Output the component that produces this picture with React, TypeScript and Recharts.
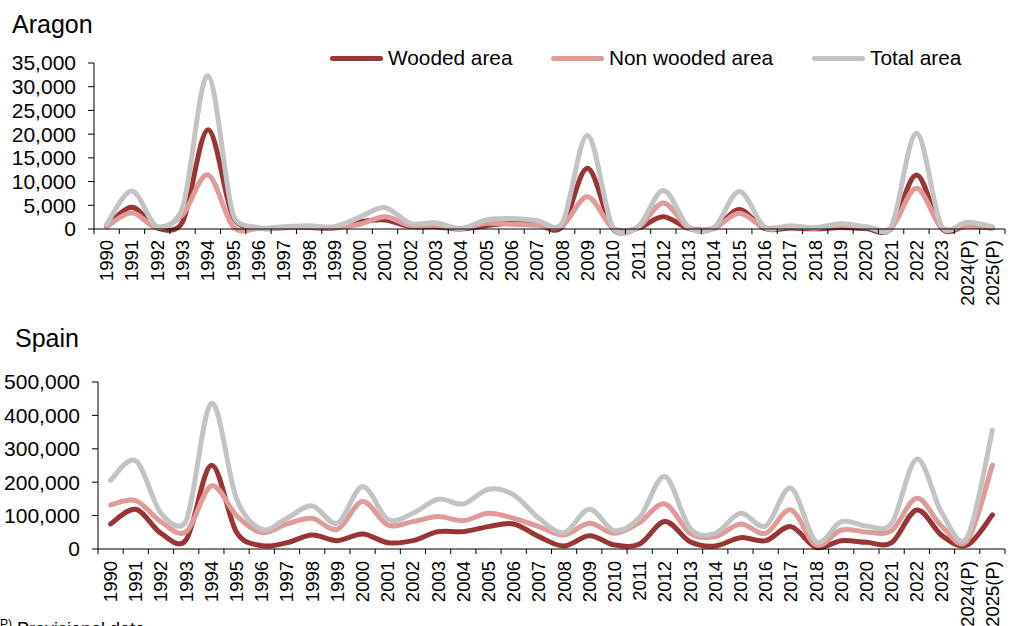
import React from 'react';
import { LineChart, Line, XAxis, YAxis } from 'recharts';

const years = [
  '1990', '1991', '1992', '1993', '1994', '1995', '1996', '1997', '1998', '1999',
  '2000', '2001', '2002', '2003', '2004', '2005', '2006', '2007', '2008', '2009',
  '2010', '2011', '2012', '2013', '2014', '2015', '2016', '2017', '2018', '2019',
  '2020', '2021', '2022', '2023', '2024(P)', '2025(P)',
];

// Aragon (ha)
const aragonWooded = [
  500, 4600, 200, 1500, 20900, 2500, 200, 300, 300, 200,
  1500, 1900, 500, 500, 0, 700, 1200, 1000, 500, 12800,
  100, 200, 2600, 100, 100, 4100, 100, 200, 50, 300,
  100, 100, 11400, 100, 700, 200,
];
const aragonNonWooded = [
  500, 3400, 300, 3000, 11400, 500, 100, 200, 400, 300,
  1000, 2600, 700, 800, 100, 1200, 1000, 800, 700, 6800,
  200, 300, 5500, 200, 200, 3300, 300, 500, 200, 800,
  400, 200, 8600, 300, 700, 300,
];
const aragonTotal = [
  1000, 8000, 500, 4500, 32300, 3000, 300, 500, 700, 500,
  2500, 4500, 1200, 1300, 100, 1900, 2200, 1800, 1200, 19700,
  400, 500, 8100, 400, 300, 7900, 400, 700, 250, 1100,
  500, 400, 20200, 500, 1400, 500,
];

// Spain (ha)
const spainWooded = [
  75000, 119000, 47000, 28000, 251000, 50000, 10000, 19000, 42000, 25000,
  45000, 19000, 25000, 52000, 52000, 67000, 75000, 37000, 9000, 40000,
  12000, 15000, 82000, 22000, 9000, 34000, 25000, 67000, 5000, 25000,
  20000, 19000, 117000, 40000, 12000, 102000,
];
const spainNonWooded = [
  132000, 145000, 82000, 52000, 189000, 100000, 49000, 75000, 92000, 59000,
  142000, 72000, 82000, 97000, 85000, 107000, 92000, 67000, 42000, 77000,
  47000, 80000, 135000, 47000, 37000, 75000, 47000, 117000, 12000, 57000,
  51000, 55000, 152000, 67000, 25000, 251000,
];
const spainTotal = [
  206000, 264000, 107000, 85000, 436000, 150000, 59000, 92000, 129000, 77000,
  187000, 89000, 107000, 149000, 135000, 179000, 162000, 92000, 49000, 119000,
  55000, 95000, 217000, 62000, 47000, 107000, 69000, 182000, 22000, 82000,
  69000, 77000, 269000, 107000, 35000, 356000,
];

const aragonTicks = [0, 5000, 10000, 15000, 20000, 25000, 30000, 35000];
const spainTicks = [0, 100000, 200000, 300000, 400000, 500000];

const COLORS = { wooded: '#993535', nonWooded: '#DF9A99', total: '#C3C3C3' };
const FONT = '"Liberation Sans", Arial, sans-serif';

// tick marks on band edges (integers), year labels on band centres (halves)
const xTicks = Array.from({ length: years.length * 2 + 1 }, (_, i) => i / 2);

const buildRows = (wooded: number[], nonWooded: number[], total: number[]) =>
  years.map((_, i) => ({ pos: i + 0.5, wooded: wooded[i], nonWooded: nonWooded[i], total: total[i] }));

// Excel-like smoothed line: Catmull-Rom handles, each capped at half of its segment
const smoothCurve = (context: any) => {
  let pts: number[][] = [];
  const handle = (dx: number, dy: number, segLen: number) => {
    const len = Math.hypot(dx, dy);
    const max = segLen / 2;
    const k = len > max && len > 0 ? max / len : 1;
    return [dx * k, dy * k];
  };
  return {
    areaStart() {},
    areaEnd() {},
    lineStart() { pts = []; },
    point(x: number, y: number) { pts.push([+x, +y]); },
    lineEnd() {
      if (!pts.length) return;
      context.moveTo(pts[0][0], pts[0][1]);
      for (let i = 0; i < pts.length - 1; i++) {
        const p0 = pts[i - 1] || pts[i];
        const p1 = pts[i];
        const p2 = pts[i + 1];
        const p3 = pts[i + 2] || p2;
        const seg = Math.hypot(p2[0] - p1[0], p2[1] - p1[1]);
        const h1 = handle((p2[0] - p0[0]) / 6, (p2[1] - p0[1]) / 6, seg);
        const h2 = handle((p3[0] - p1[0]) / 6, (p3[1] - p1[1]) / 6, seg);
        context.bezierCurveTo(
          p1[0] + h1[0], p1[1] + h1[1],
          p2[0] - h2[0], p2[1] - h2[1],
          p2[0], p2[1],
        );
      }
    },
  };
};

const YearTick = ({ x, y, payload, gap }: any) => {
  const v = payload.value;
  if (Number.isInteger(v)) {
    return <line x1={x} y1={y} x2={x} y2={y + 5} stroke="#000" strokeWidth={1} />;
  }
  return (
    <text
      transform={`translate(${x},${y + gap}) rotate(-90)`}
      textAnchor="end"
      dy="0.35em"
      fontSize={18.5}
      fontFamily={FONT}
      fill="#000"
    >
      {years[Math.floor(v)]}
    </text>
  );
};

const fmt = (v: number) => v.toLocaleString('en-US');

type PanelProps = {
  rows: any[];
  ticks: number[];
  height: number;
  top: number;
  axisWidth: number;
  xAxisHeight: number;
  labelGap: number;
};

const Panel = ({ rows, ticks, height, top, axisWidth, xAxisHeight, labelGap }: PanelProps) => (
  <LineChart
    width={1014}
    height={height}
    data={rows}
    margin={{ top, right: 9, bottom: 0, left: 0 }}
  >
    <XAxis
      dataKey="pos"
      type="number"
      domain={[0, years.length]}
      ticks={xTicks}
      interval={0}
      height={xAxisHeight}
      tickLine={false}
      tickSize={0}
      tickMargin={0}
      axisLine={{ stroke: '#000', strokeWidth: 1 }}
      tick={<YearTick gap={labelGap} />}
    />
    <YAxis
      type="number"
      domain={[0, ticks[ticks.length - 1]]}
      ticks={ticks}
      interval={0}
      width={axisWidth}
      tickSize={6}
      tickMargin={12}
      tickFormatter={fmt}
      axisLine={{ stroke: '#000', strokeWidth: 1 }}
      tickLine={{ stroke: '#000', strokeWidth: 1 }}
      tick={{ fill: '#000', fontSize: 21, fontFamily: FONT }}
    />
    <Line dataKey="wooded" type={smoothCurve as any} stroke={COLORS.wooded} strokeWidth={5} strokeLinecap="round" dot={false} isAnimationActive={false} />
    <Line dataKey="nonWooded" type={smoothCurve as any} stroke={COLORS.nonWooded} strokeWidth={5} strokeLinecap="round" dot={false} isAnimationActive={false} />
    <Line dataKey="total" type={smoothCurve as any} stroke={COLORS.total} strokeWidth={5} strokeLinecap="round" dot={false} isAnimationActive={false} />
  </LineChart>
);

const legendItems = [
  { label: 'Wooded area', color: COLORS.wooded, left: 330 },
  { label: 'Non wooded area', color: COLORS.nonWooded, left: 551 },
  { label: 'Total area', color: COLORS.total, left: 812 },
];

export default function App() {
  return (
    <div
      style={{
        position: 'absolute', left: 0, top: 0, width: 1014, height: 626,
        overflow: 'hidden', background: '#fff', fontFamily: FONT, color: '#000',
      }}
    >
      <div style={{ position: 'absolute', left: 0, top: 0 }}>
        <Panel
          rows={buildRows(aragonWooded, aragonNonWooded, aragonTotal)}
          ticks={aragonTicks}
          height={320}
          top={63}
          axisWidth={94}
          xAxisHeight={91}
          labelGap={11}
        />
      </div>
      <div style={{ position: 'absolute', left: 0, top: 320 }}>
        <Panel
          rows={buildRows(spainWooded, spainNonWooded, spainTotal)}
          ticks={spainTicks}
          height={306}
          top={62}
          axisWidth={98}
          xAxisHeight={77}
          labelGap={12}
        />
      </div>

      <div style={{ position: 'absolute', left: 12, top: 12, fontSize: 25, lineHeight: '25px' }}>Aragon</div>
      <div style={{ position: 'absolute', left: 15, top: 326, fontSize: 25, lineHeight: '25px' }}>Spain</div>

      {legendItems.map((it) => (
        <div
          key={it.label}
          style={{
            position: 'absolute', left: it.left, top: 47, height: 22,
            display: 'flex', alignItems: 'center', fontSize: 20.8, lineHeight: '22px', whiteSpace: 'nowrap',
          }}
        >
          <span style={{ display: 'inline-block', width: 53, height: 5, borderRadius: 3, background: it.color, marginRight: 5 }} />
          {it.label}
        </div>
      ))}

      <div style={{ position: 'absolute', left: -4, top: 615, fontSize: 18, lineHeight: '18px', whiteSpace: 'nowrap' }}>
        <span style={{ fontSize: 12, verticalAlign: 'super' }}>(P)</span> Provisional data
      </div>
    </div>
  );
}
